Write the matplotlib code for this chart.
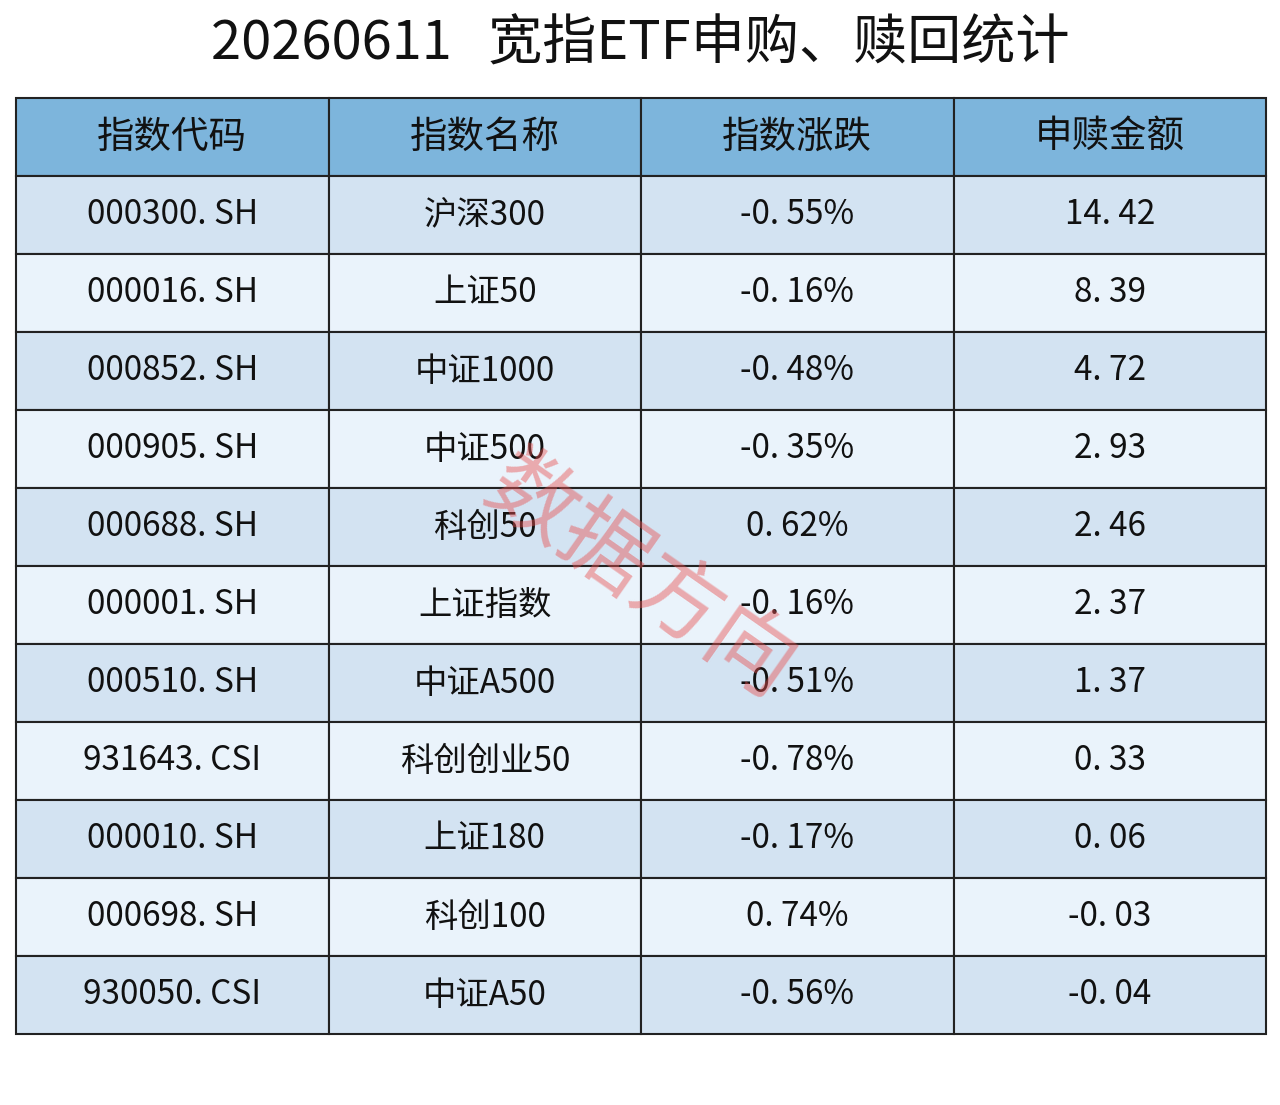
import matplotlib.pyplot as plt
from matplotlib.patches import Rectangle

plt.rcParams['font.family'] = ['Noto Sans CJK SC', 'DejaVu Sans']

TITLE = "20260611  宽指ETF申购、赎回统计"
HEADERS = ["指数代码", "指数名称", "指数涨跌", "申赎金额"]
codes = ["000300.SH", "000016.SH", "000852.SH", "000905.SH", "000688.SH", "000001.SH",
         "000510.SH", "931643.CSI", "000010.SH", "000698.SH", "930050.CSI"]
names = ["沪深300", "上证50", "中证1000", "中证500", "科创50", "上证指数",
         "中证A500", "科创创业50", "上证180", "科创100", "中证A50"]
changes = ["-0.55%", "-0.16%", "-0.48%", "-0.35%", "0.62%", "-0.16%",
           "-0.51%", "-0.78%", "-0.17%", "0.74%", "-0.56%"]
amounts = ["14.42", "8.39", "4.72", "2.93", "2.46", "2.37",
           "1.37", "0.33", "0.06", "-0.03", "-0.04"]

W, H = 1280, 1105
fig = plt.figure(figsize=(W / 100, H / 100), dpi=100)
ax = fig.add_axes([0, 0, 1, 1])
ax.set_xlim(0, W)
ax.set_ylim(H, 0)
ax.axis("off")

left, right, top = 16, 1266, 98
col_w = (right - left) / 4
head_h = 78
row_h = 78

ax.text(W / 2, 44, TITLE.replace("  ", "   "), ha="center", va="center",
        fontsize=39, color="#111111")

# header
for j, h in enumerate(HEADERS):
    x = left + j * col_w
    ax.add_patch(Rectangle((x, top), col_w, head_h, facecolor="#7db5dc",
                           edgecolor="#222222", linewidth=1.5))
    ax.text(x + col_w / 2, top + head_h / 2, h, ha="center", va="center",
            fontsize=27, color="#111111")

rows = list(zip(codes, names, changes, amounts))
for i, row in enumerate(rows):
    y = top + head_h + i * row_h
    fc = "#d3e3f2" if i % 2 == 0 else "#eaf3fb"
    for j, val in enumerate(row):
        x = left + j * col_w
        ax.add_patch(Rectangle((x, y), col_w, row_h, facecolor=fc,
                               edgecolor="#222222", linewidth=1.5))
        ax.text(x + col_w / 2, y + row_h / 2, val.replace(".", ". "), ha="center",
                va="center", fontsize=24, color="#111111")

# watermark
ax.text(640, 578, "数据方向", ha="center", va="center", fontsize=64,
        color="#e85050", alpha=0.45, rotation=-35)

fig.savefig("out.png", dpi=100, facecolor="white")
